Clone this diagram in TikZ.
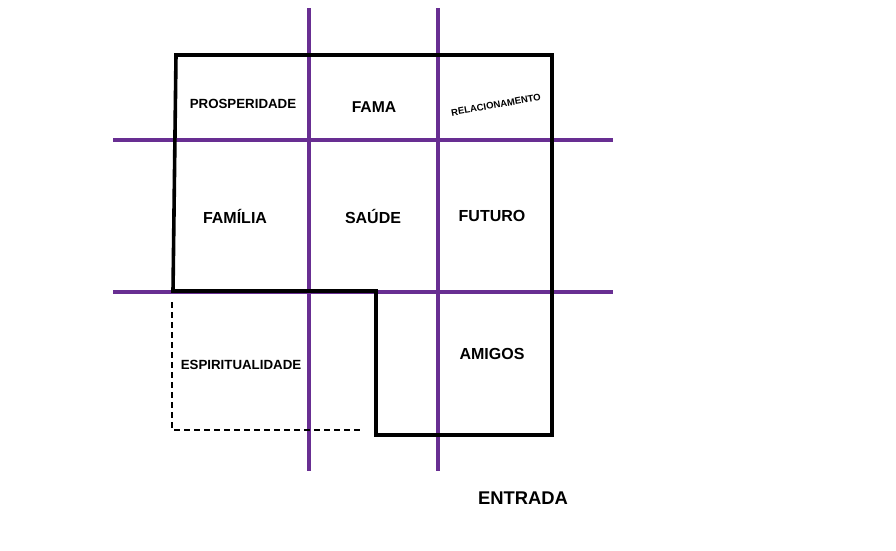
\documentclass[tikz,border=0pt]{standalone}
\usepackage{fontspec}
\setmainfont{Liberation Sans}
\definecolor{grid}{RGB}{104,46,146}
\begin{document}
\begin{tikzpicture}[x=1pt,y=-1pt,
  gridline/.style={draw=grid,line width=3.2pt},
  wall/.style={draw=black,line width=3.6pt,line join=miter},
  dashline/.style={draw=black,line width=1.6pt,dash pattern=on 6pt off 4pt},
  lbl/.style={font=\bfseries\fontsize{16}{19}\selectfont,inner sep=0pt},
  slbl/.style={font=\bfseries\fontsize{13.3}{16}\selectfont,inner sep=0pt}]
\useasboundingbox[fill=white] (0,0) rectangle (896,550);
% grid
\coordinate (v1t) at (309,8); \coordinate (v1b) at (309,471);
\coordinate (v2t) at (438,8); \coordinate (v2b) at (438,471);
\coordinate (h1l) at (113,140); \coordinate (h1r) at (613,140);
\coordinate (h2l) at (113,292); \coordinate (h2r) at (613,292);
\draw[gridline] (v1t) -- (v1b);
\draw[gridline] (v2t) -- (v2b);
\draw[gridline] (h1l) -- (h1r);
\draw[gridline] (h2l) -- (h2r);
% outline
\coordinate (p1) at (176,55); \coordinate (p2) at (552,55);
\coordinate (p3) at (552,435); \coordinate (p4) at (376,435);
\coordinate (p5) at (376,291); \coordinate (p6) at (173,291);
\draw[wall] (p1) -- (p2) -- (p3) -- (p4) -- (p5) -- (p6) -- cycle;
% dashed
\coordinate (d1) at (172,302); \coordinate (d2) at (172,430); \coordinate (d3) at (360,430);
\draw[dashline] (d1) -- (d2) -- (d3);
% labels
\node[slbl] (prosp) at (243,104) {PROSPERIDADE};
\node[font=\bfseries\fontsize{15.7}{19}\selectfont,inner sep=0pt] (fama) at (374,107) {FAMA};
\node[font=\bfseries\fontsize{9.5}{11}\selectfont,inner sep=0pt,rotate=10] (rel) at (496,105) {RELACIONAMENTO};
\node[lbl] (fam) at (235,216) {FAMÍLIA};
\node[lbl] (saude) at (373,216) {SAÚDE};
\node[lbl] (fut) at (492,216) {FUTURO};
\node[slbl] (esp) at (241,365) {ESPIRITUALIDADE};
\node[lbl] (amig) at (492,354) {AMIGOS};
\node[font=\bfseries\fontsize{18.4}{22}\selectfont,inner sep=0pt] (ent) at (523,498) {ENTRADA};
\end{tikzpicture}
\end{document}
